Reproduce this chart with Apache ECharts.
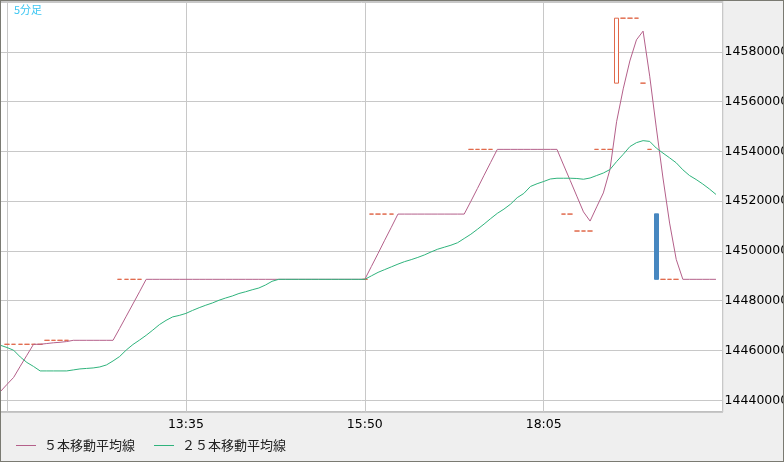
<!DOCTYPE html>
<html>
<head>
<meta charset="utf-8">
<script src="https://cdn.jsdelivr.net/npm/echarts@6/dist/echarts.min.js"></script>
<style>
	body { margin: 0; background: #fff; }
	#wrap { position: relative; width: 784px; height: 462px; box-sizing: border-box; border: 1px solid #7a7a72; background: #efefef; overflow: hidden; }
	#main { position: absolute; left: 0; top: 0; width: 782px; height: 460px; }
</style>
</head>
<body>
<div id="wrap"><div id="main"></div></div>
<script>
// 5分足: 11:15 から 5分刻み 110本
var startTime = [11, 15];
var barCount = 110;

var opens = [
	null, 14462500, 14462500, 14462500, 14462500, 14462500, 14462500, 14464100, 14464100, 14464100,
	14464100, null, null, null, null, null, null, null, 14488600, 14488600,
	14488600, 14488600, null, null, null, null, null, null, null, null,
	null, null, null, null, null, null, null, null, null, null,
	null, null, null, null, null, null, null, null, null, null,
	null, null, null, null, null, 14488600, 14514800, 14514800, 14514800, 14514800,
	null, null, null, null, null, null, null, null, null, null,
	null, 14540800, 14540800, 14540800, 14540800, null, null, null, null, null,
	null, null, null, null, null, 14514800, 14514800, 14508000, 14508000, 14508000,
	14540800, 14540800, 14540800, 14567400, 14593500, 14593500, 14593500, 14567400, 14540800, 14514900,
	14488600, 14488600, 14488600, null, null, null, null, null, null, null
];
var closes = [
	null, 14462500, 14462500, 14462500, 14462500, 14462500, 14462500, 14464100, 14464100, 14464100,
	14464100, null, null, null, null, null, null, null, 14488600, 14488600,
	14488600, 14488600, null, null, null, null, null, null, null, null,
	null, null, null, null, null, null, null, null, null, null,
	null, null, null, null, null, null, null, null, null, null,
	null, null, null, null, null, 14488600, 14514800, 14514800, 14514800, 14514800,
	null, null, null, null, null, null, null, null, null, null,
	null, 14540800, 14540800, 14540800, 14540800, null, null, null, null, null,
	null, null, null, null, null, 14514800, 14514800, 14508000, 14508000, 14508000,
	14540800, 14540800, 14540800, 14593500, 14593500, 14593500, 14593500, 14567400, 14540800, 14488600,
	14488600, 14488600, 14488600, null, null, null, null, null, null, null
];
var ma5 = [
	14443500, 14446400, 14449200, 14453700, 14458100, 14462500, 14462500, 14462800, 14463100, 14463300,
	14463600, 14464100, 14464100, 14464100, 14464100, 14464100, 14464100, 14464100, 14468900, 14473800,
	14478700, 14483600, 14488600, 14488600, 14488600, 14488600, 14488600, 14488600, 14488600, 14488600,
	14488600, 14488600, 14488600, 14488600, 14488600, 14488600, 14488600, 14488600, 14488600, 14488600,
	14488600, 14488600, 14488600, 14488600, 14488600, 14488600, 14488600, 14488600, 14488600, 14488600,
	14488600, 14488600, 14488600, 14488600, 14488600, 14488600, 14493800, 14499000, 14504300, 14509500,
	14514800, 14514800, 14514800, 14514800, 14514800, 14514800, 14514800, 14514800, 14514800, 14514800,
	14514800, 14519900, 14525100, 14530400, 14535600, 14540800, 14540800, 14540800, 14540800, 14540800,
	14540800, 14540800, 14540800, 14540800, 14540800, 14534500, 14528300, 14522000, 14515700, 14512000,
	14517700, 14523300, 14532700, 14551900, 14565100, 14576300, 14584800, 14588300, 14570200, 14549400,
	14529300, 14511200, 14496600, 14488600, 14488600, 14488600, 14488600, 14488600, 14488600, null
];
var ma25 = [
	14462100, 14461200, 14460100, 14457400, 14455200, 14453600, 14451800, 14451800, 14451800, 14451800,
	14451800, 14452200, 14452600, 14452800, 14453000, 14453400, 14454200, 14455800, 14457600, 14460200,
	14462400, 14464200, 14466100, 14468200, 14470400, 14472100, 14473500, 14474100, 14474900, 14476100,
	14477200, 14478200, 14479100, 14480200, 14481100, 14481900, 14482900, 14483600, 14484400, 14485100,
	14486300, 14487800, 14488600, 14488600, 14488600, 14488600, 14488600, 14488600, 14488600, 14488600,
	14488600, 14488600, 14488600, 14488600, 14488600, 14488600, 14490000, 14491400, 14492500, 14493600,
	14494700, 14495700, 14496500, 14497400, 14498400, 14499600, 14500700, 14501500, 14502300, 14503300,
	14505000, 14506700, 14508700, 14510800, 14513000, 14515100, 14516800, 14518800, 14521400, 14523100,
	14525900, 14527000, 14527900, 14528900, 14529200, 14529200, 14529200, 14529100, 14528800, 14529300,
	14530300, 14531300, 14532700, 14535900, 14538800, 14541900, 14543500, 14544300, 14544000, 14541300,
	14539300, 14537400, 14535400, 14532600, 14530300, 14528700, 14526900, 14524900, 14522700, null
];
var yMin = 14435300;
var yMax = 14600400;
var labelBars = [28, 55, 82];

var myChart = echarts.init(document.getElementById('main'));

var times = [];
var candles = [];
for (var i = 0; i < barCount; i++) {
	var m = startTime[0] * 60 + startTime[1] + i * 5;
	var hh = Math.floor(m / 60), mm = m % 60;
	times.push(hh + ':' + (mm < 10 ? '0' : '') + mm);
	if (closes[i] == null) {
		candles.push('-');
	} else {
		candles.push([opens[i], closes[i], Math.min(opens[i], closes[i]), Math.max(opens[i], closes[i])]);
	}
}
function dash(arr) {
	return arr.map(function(v) { return v == null ? '-' : v; });
}

var upColor = '#e0684a';
var downColor = '#4787c0';
var labelFont = 'DejaVu Sans';

option = {
	animation : false,
	backgroundColor : 'transparent',
	title : {
		text : '5分足',
		left : 13,
		top : 3,
		padding : 0,
		textStyle : {
			color : '#3cc6f2',
			fontSize : 11,
			fontWeight : 'normal',
			fontFamily : 'Noto Sans CJK JP'
		}
	},
	legend : {
		left : 15,
		top : 438,
		padding : 0,
		icon : 'rect',
		itemWidth : 20,
		itemHeight : 1,
		itemGap : 19,
		selectedMode : false,
		textStyle : {
			color : '#222',
			fontSize : 13,
			fontFamily : 'Noto Sans CJK JP',
			padding : [ 0, 0, 0, 3 ]
		},
		data : [ '５本移動平均線', '２５本移動平均線' ]
	},
	grid : {
		left : -0.6,
		top : 0,
		width : 722.2,
		height : 411,
		show : true,
		backgroundColor : '#fff',
		borderColor : '#808080',
		borderWidth : 1,
		outerBoundsMode : 'none'
	},
	xAxis : {
		type : 'category',
		boundaryGap : false,
		data : times,
		axisLine : { show : false },
		axisTick : { show : false },
		axisLabel : {
			color : '#000',
			fontSize : 12.5,
			fontFamily : labelFont,
			margin : 6,
			interval : function(idx) {
				return labelBars.indexOf(idx) >= 0;
			}
		},
		splitLine : {
			show : true,
			interval : function(idx) {
				return (idx - 1) % 27 === 0;
			},
			lineStyle : { color : '#c8c8c8', width : 1 }
		}
	},
	yAxis : {
		type : 'value',
		position : 'right',
		scale : true,
		min : yMin,
		max : yMax,
		splitNumber : 8,
		axisLine : { show : false },
		axisTick : { show : false },
		axisLabel : {
			color : '#000',
			fontSize : 12.5,
			fontFamily : labelFont,
			margin : 2,
			showMinLabel : false,
			showMaxLabel : false,
			formatter : function(v) {
				return (v % 20000 === 0 && v < 14590000) ? String(v) : '';
			}
		},
		splitLine : {
			show : true,
			lineStyle : { color : '#c8c8c8', width : 1 }
		}
	},
	series : [ {
		name : 'candle',
		type : 'candlestick',
		barWidth : 5,
		data : candles,
		itemStyle : {
			color : '#fff',
			color0 : downColor,
			borderColor : upColor,
			borderColor0 : downColor,
			borderColorDoji : upColor,
			borderWidth : 1
		}
	}, {
		name : '５本移動平均線',
		type : 'line',
		data : dash(ma5),
		showSymbol : false,
		symbol : 'none',
		color : '#b4608a',
		lineStyle : { color : '#b4608a', width : 1 }
	}, {
		name : '２５本移動平均線',
		type : 'line',
		data : dash(ma25),
		showSymbol : false,
		symbol : 'none',
		color : '#2fb37c',
		lineStyle : { color : '#2fb37c', width : 1 }
	} ]
};
myChart.setOption(option);
</script>
</body>
</html>
